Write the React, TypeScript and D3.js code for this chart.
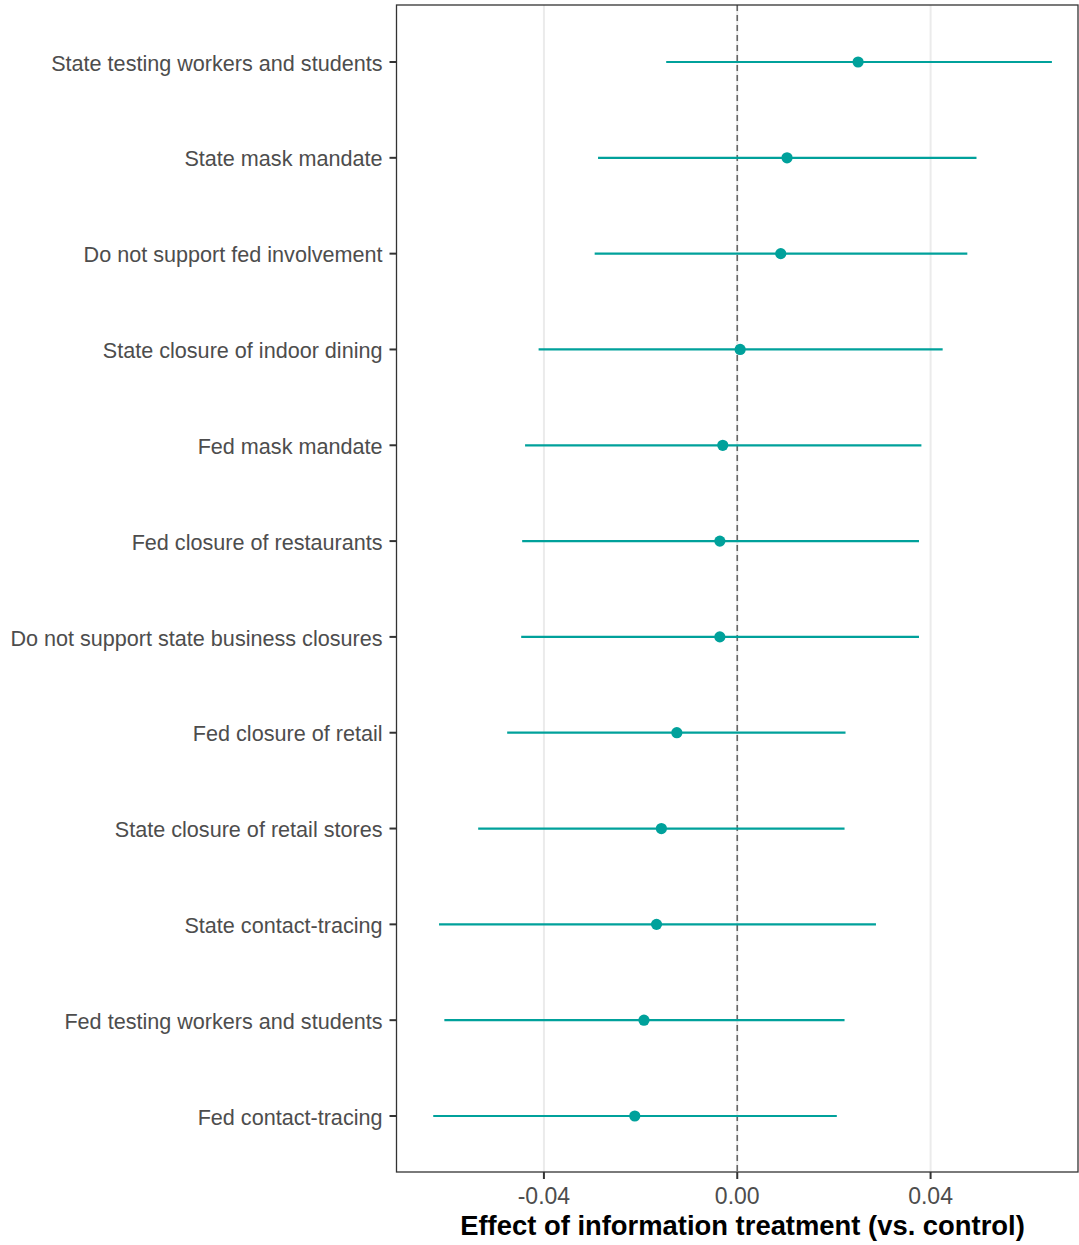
import React from "react";
import * as d3 from "d3";

// Policy outcomes, top to bottom
const outcomes = [
  "State testing workers and students",
  "State mask mandate",
  "Do not support fed involvement",
  "State closure of indoor dining",
  "Fed mask mandate",
  "Fed closure of restaurants",
  "Do not support state business closures",
  "Fed closure of retail",
  "State closure of retail stores",
  "State contact-tracing",
  "Fed testing workers and students",
  "Fed contact-tracing",
];

// Point estimates and 95% interval bounds
const estimates = [0.0250, 0.0103, 0.0090, 0.0006, -0.0030, -0.0036, -0.0036, -0.0125, -0.0157, -0.0167, -0.0193, -0.0212];
const lower = [-0.0147, -0.0288, -0.0295, -0.0411, -0.0439, -0.0445, -0.0447, -0.0476, -0.0536, -0.0617, -0.0606, -0.0629];
const upper = [0.0651, 0.0495, 0.0476, 0.0425, 0.0381, 0.0376, 0.0376, 0.0224, 0.0222, 0.0287, 0.0222, 0.0206];

const xTicks = [-0.04, 0, 0.04];
const xTickLabels = ["-0.04", "0.00", "0.04"];

const W = 1079;
const H = 1245;
const panel = { left: 396.5, right: 1078, top: 5, bottom: 1172 };
const teal = "#00a19b";
const font = "'Liberation Sans', Arial, Helvetica, sans-serif";

export default function App() {
  const x = d3.scaleLinear().domain([-0.0705, 0.0705]).range([panel.left, panel.right]);
  const y = d3
    .scalePoint<string>()
    .domain(outcomes)
    .range([panel.top, panel.bottom + 1])
    .padding(0.595);

  return (
    <svg width={W} height={H} style={{ display: "block", position: "absolute", left: 0, top: 0 }} fontFamily={font}>
      <rect x={0} y={0} width={W} height={H} fill="#fff" />
      {/* vertical grid */}
      {xTicks.map((t) => (
        <line key={"g" + t} x1={x(t)} x2={x(t)} y1={panel.top} y2={panel.bottom} stroke="#ebebeb" strokeWidth={2} />
      ))}
      {/* zero reference */}
      <line
        x1={x(0)}
        x2={x(0)}
        y1={panel.top}
        y2={panel.bottom}
        stroke="#666"
        strokeWidth={1.6}
        strokeDasharray="6,4"
      />
      {/* intervals and estimates */}
      {outcomes.map((o, i) => (
        <g key={o}>
          <line x1={x(lower[i])} x2={x(upper[i])} y1={y(o)} y2={y(o)} stroke={teal} strokeWidth={2.2} />
          <circle cx={x(estimates[i])} cy={y(o)} r={5.6} fill={teal} />
        </g>
      ))}
      {/* panel border */}
      <rect
        x={panel.left}
        y={panel.top}
        width={panel.right - panel.left}
        height={panel.bottom - panel.top}
        fill="none"
        stroke="#333"
        strokeWidth={1.3}
      />
      {/* y axis */}
      {outcomes.map((o) => (
        <g key={"t" + o}>
          <line x1={panel.left - 7} x2={panel.left} y1={y(o)} y2={y(o)} stroke="#333" strokeWidth={2} />
          <text x={panel.left - 14} y={(y(o) as number) + 8.6} textAnchor="end" fontSize={21.6} fill="#4d4d4d">
            {o}
          </text>
        </g>
      ))}
      {/* x axis */}
      {xTicks.map((t, i) => (
        <g key={"x" + t}>
          <line x1={x(t)} x2={x(t)} y1={panel.bottom} y2={panel.bottom + 7} stroke="#333" strokeWidth={2} />
          <text x={x(t)} y={1204} textAnchor="middle" fontSize={23} fill="#4d4d4d">
            {xTickLabels[i]}
          </text>
        </g>
      ))}
      <text x={742.5} y={1235} textAnchor="middle" fontSize={27.4} fontWeight="bold" fill="#000">
        Effect of information treatment (vs. control)
      </text>
    </svg>
  );
}
